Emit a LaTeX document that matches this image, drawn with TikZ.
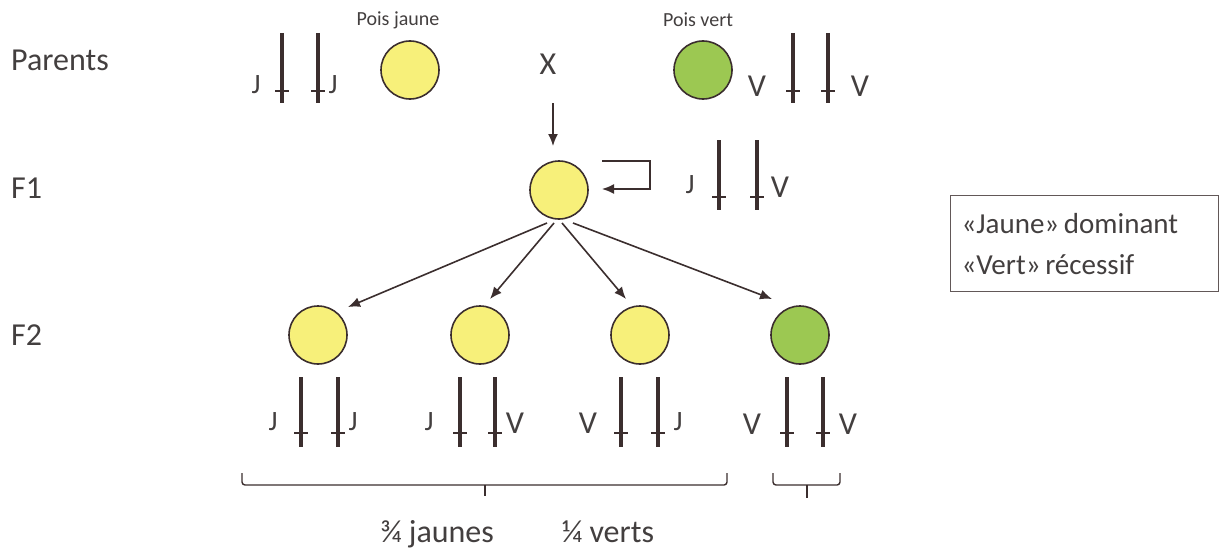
\documentclass[tikz,border=0pt]{standalone}
\usepackage{fontspec}
\setmainfont{Carlito}
\usetikzlibrary{arrows.meta}
\definecolor{ink}{HTML}{3B2E2E}
\definecolor{txt}{HTML}{433F3F}
\definecolor{peayellow}{HTML}{F7F07A}
\definecolor{peagreen}{HTML}{9CC852}
\tikzset{
  pea/.style={circle, draw=ink, line width=1.6pt, minimum size=58pt, inner sep=0pt},
  yel/.style={pea, fill=peayellow},
  grn/.style={pea, fill=peagreen},
  lbl/.style={text=txt, font=\fontsize{32}{36}\selectfont, inner sep=0pt},
  gene/.style={text=txt, font=\fontsize{32}{34}\selectfont, inner sep=0pt},
  genes/.style={text=txt, font=\fontsize{28}{30}\selectfont, inner sep=0pt},
  small/.style={text=txt, font=\fontsize{20}{22}\selectfont, inner sep=0pt},
  arr/.style={draw=ink, line width=1.6pt, -{Latex[length=12pt,width=10pt]}},
  brace/.style={draw=ink, line width=1.4pt, rounded corners=3pt},
}
\newcommand{\chrom}[4]{%
  \draw[ink, line width=3.6pt] (#1,#2) -- (#1,#3);
  \draw[ink, line width=1.6pt] (#1-7,#4) -- (#1+7,#4);}
\begin{document}
\begin{tikzpicture}[x=1pt,y=-1pt]
\useasboundingbox (0,0) rectangle (1222,551);
% row labels
\node[lbl, anchor=west] (lp) at (11,60) {Parents};
\node[lbl, anchor=west] (lf1) at (11,188) {F1};
\node[lbl, anchor=west] (lf2) at (11,335) {F2};
% parents
\node[small] (tj) at (398,20) {Pois jaune};
\node[small] (tv) at (698,20) {Pois vert};
\node[yel] (pj) at (410,70) {};
\node[grn] (pv) at (703,70) {};
\node[lbl] (x) at (548,64) {X};
\chrom{282}{33}{103}{91}
\chrom{318}{33}{103}{91}
\node[genes] (pj1) at (256,85) {J};
\node[genes] (pj2) at (333,85) {J};
\chrom{793}{33}{103}{91}
\chrom{828}{33}{103}{91}
\node[gene] (pv1) at (757,86) {V};
\node[gene] (pv2) at (860,86) {V};
% F1
\node[yel] (f1) at (559,190) {};
\coordinate (xa) at (553,103);
\coordinate (xb) at (553,146);
\draw[arr] (xa) -- (xb);
\coordinate (s1) at (602,161);
\coordinate (s2) at (602,189);
\draw[arr] (s1) -- (650,161) -- (650,189) -- (s2);
\chrom{719}{140}{210}{197}
\chrom{757}{140}{210}{197}
\node[genes] (f1a) at (690,185) {J};
\node[gene] (f1b) at (780,187) {V};
% F2
\node[yel] (c1) at (318,335) {};
\node[yel] (c2) at (480,335) {};
\node[yel] (c3) at (640,335) {};
\node[grn] (c4) at (800,335) {};
\coordinate (o1) at (547,223);
\coordinate (o2) at (554,223);
\coordinate (o3) at (562,223);
\coordinate (o4) at (573,223);
\coordinate (e1) at (348,307);
\coordinate (e2) at (490,299);
\coordinate (e3) at (626,299);
\coordinate (e4) at (772,299);
\draw[arr] (o1) -- (e1);
\draw[arr] (o2) -- (e2);
\draw[arr] (o3) -- (e3);
\draw[arr] (o4) -- (e4);
\chrom{301}{377}{447}{433}
\chrom{338}{377}{447}{433}
\chrom{460}{377}{447}{433}
\chrom{495}{377}{447}{433}
\chrom{621}{377}{447}{433}
\chrom{658}{377}{447}{433}
\chrom{787}{377}{447}{433}
\chrom{823}{377}{447}{433}
\node[genes] (g1) at (273,422) {J};
\node[genes] (g2) at (353,422) {J};
\node[genes] (g3) at (429,422) {J};
\node[gene] (g4) at (515,423) {V};
\node[gene] (g5) at (588,423) {V};
\node[genes] (g6) at (678,422) {J};
\node[gene] (g7) at (752,424) {V};
\node[gene] (g8) at (848,424) {V};
% braces
\draw[brace] (242,473) -- (242,485) -- (727,485) -- (727,473);
\draw[ink, line width=1.4pt] (485,485) -- (485,496);
\draw[brace] (773,473) -- (773,485) -- (840,485) -- (840,473);
\draw[ink, line width=1.4pt] (807,485) -- (807,498);
\node[lbl, anchor=base] (r1) at (437,542) {¾ jaunes};
\node[lbl, anchor=base] (r2) at (608,542) {¼ verts};
% legend box
\node[draw=ink!80, line width=1.2pt, text=txt, font=\fontsize{29}{41}\selectfont, align=left,
      anchor=north west, minimum width=268pt, minimum height=96pt, inner xsep=11pt, text width=246pt]
  (legend) at (950,195) {«Jaune»\hspace{-5pt} dominant\\«Vert»\hspace{-5pt} récessif};
\end{tikzpicture}
\end{document}
